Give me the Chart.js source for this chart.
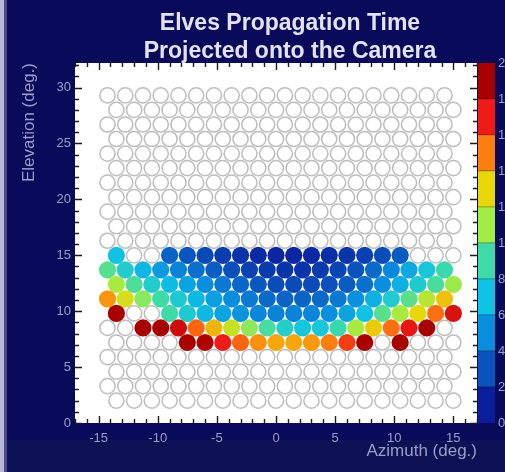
<!DOCTYPE html>
<html><head><meta charset="utf-8">
<script src="https://cdn.jsdelivr.net/npm/chart.js@4.4.1/dist/chart.umd.min.js"></script>
<style>html,body{margin:0;padding:0;background:#0a0a5a;overflow:hidden}</style>
</head><body>
<canvas id="c" width="505" height="472"></canvas>
<script>
// ---- text ----
const titleLines = ['Elves Propagation Time', 'Projected onto the Camera'];
const xAxisTitle = 'Azimuth (deg.)';
const yAxisTitle = 'Elevation (deg.)';

// ---- tick labels ----
const azimuthTicks = [-15, -10, -5, 0, 5, 10, 15];
const elevationTicks = [0, 5, 10, 15, 20, 25, 30];
const timeTicks = [0, 2, 4, 6, 8, 10, 12, 14, 16, 18, 20];

// ---- camera pixel layout (hexagonal grid, 22 rows x 20 columns) ----
const evenRowAzimuth = [-14.25, -12.75, -11.25, -9.75, -8.25, -6.75, -5.25, -3.75, -2.25, -0.75,
                        0.75, 2.25, 3.75, 5.25, 6.75, 8.25, 9.75, 11.25, 12.75, 14.25];
const oddRowAzimuth = [-13.5, -12, -10.5, -9, -7.5, -6, -4.5, -3, -1.5, 0,
                       1.5, 3, 4.5, 6, 7.5, 9, 10.5, 12, 13.5, 15];
const rowElevation = [29.3, 28.0, 26.7, 25.4, 24.1, 22.8, 21.5, 20.2, 18.9, 17.6, 16.3,
                      15.0, 13.7, 12.4, 11.1, 9.8, 8.5, 7.2, 5.9, 4.6, 3.3, 2.0];

// ---- propagation time per triggered pixel (null = no signal) ----
const timeRow11 = [7.0, null, null, 3.6, 3.1, 2.7, 2.2, 1.8, 1.5, 1.3, 1.3, 1.4, 1.6, 1.9, 2.3, 2.8, 3.3, null, null, null];
const timeRow12 = [9.5, 7.8, 6.5, 5.5, 4.6, 4.0, 3.4, 2.9, 2.4, 2.1, 1.9, 1.9, 2.1, 2.5, 3.0, 3.8, 4.8, 6.0, 7.3, 8.8];
const timeRow13 = [11.2, 9.3, 7.8, 6.8, 5.8, 5.0, 4.3, 3.7, 3.2, 2.8, 2.7, 2.7, 2.9, 3.3, 4.0, 5.0, 6.3, 7.7, 9.2, 10.9];
const timeRow14 = [14.5, 12.5, 10.5, 9.0, 7.6, 6.6, 5.7, 4.9, 4.3, 3.8, 3.6, 3.6, 3.8, 4.3, 5.1, 6.3, 7.7, 9.6, 11.6, 13.5];
const timeRow15 = [19.0, null, null, 9.0, 7.6, 6.6, 5.8, 5.2, 4.8, 4.6, 4.6, 4.7, 5.0, 5.8, 7.0, 9.5, 11.2, 13.0, 15.3, 17.6];
const timeRow16 = [null, null, 19.0, 19.0, 18.0, 15.5, 13.8, 12.0, 10.6, 9.2, 7.9, 7.3, 7.4, 8.8, 11.2, 13.3, 15.3, 17.3, 19.2, null];
const timeRow17 = [null, null, null, null, 19.2, 18.8, 17.0, 15.5, 14.6, 14.1, 14.1, 14.4, 15.0, 16.3, 19.0, null, 19.3, null, null, null];
const signalRowIndex = [11, 12, 13, 14, 15, 16, 17];
const signalRowTimes = [timeRow11, timeRow12, timeRow13, timeRow14, timeRow15, timeRow16, timeRow17];

// ---- colour scale (one colour per 2-unit band, 0 -> 20) ----
const bandColors = ['#0a1e9c', '#0a52bc', '#0a8ede', '#10c2e4', '#3edaa8',
                    '#a2ec46', '#e8d808', '#ff7e10', '#f01a16', '#a80000'];

function hexRgb(h) { return [1, 3, 5].map(i => parseInt(h.substr(i, 2), 16)); }
function timeColor(t) {
  const p = Math.max(0, Math.min(bandColors.length - 1, t / 2 - 0.5));
  const i = Math.min(bandColors.length - 2, Math.floor(p));
  const f = p - i;
  const a = hexRgb(bandColors[i]), b = hexRgb(bandColors[i + 1]);
  const c = a.map((v, j) => Math.round(v + (b[j] - v) * f));
  return `rgb(${c[0]},${c[1]},${c[2]})`;
}

// ---- build point lists from the camera layout and the time rows ----
const emptyPixels = [], hitPixels = [];
rowElevation.forEach((el, r) => {
  const az = r % 2 === 0 ? evenRowAzimuth : oddRowAzimuth;
  const si = signalRowIndex.indexOf(r);
  az.forEach((a, k) => {
    const t = si >= 0 ? signalRowTimes[si][k] : null;
    if (t === null) emptyPixels.push({ x: a, y: el });
    else hitPixels.push({ x: a, y: el, t: t });
  });
});

const FONT = '"Liberation Sans", Arial, Helvetica, sans-serif';
const NAVY = '#0a0a5a';
const LABEL = '#9c9ccc';

const backdrop = {
  id: 'backdrop',
  beforeDraw(chart) {
    const { ctx, width, height, chartArea: a } = chart;
    ctx.save();
    ctx.fillStyle = NAVY; ctx.fillRect(0, 0, width, height);
    ctx.fillStyle = '#0d1254'; ctx.fillRect(0, 440, width, height - 440);
    ctx.fillStyle = '#b8b8d4'; ctx.fillRect(0, 0, 4, height);
    ctx.fillStyle = '#4a4a8c'; ctx.fillRect(4, 0, 3, height);
    ctx.fillStyle = '#ffffff'; ctx.fillRect(a.left, a.top, a.right - a.left, a.bottom - a.top);
    ctx.restore();
  },
  afterDraw(chart) {
    const { ctx } = chart;
    ctx.save();
    ctx.font = 'bold 23px ' + FONT;
    ctx.fillStyle = '#e2e2f2';
    ctx.textAlign = 'center';
    ctx.textBaseline = 'middle';
    ctx.fillText(titleLines[0], 290, 24);
    ctx.fillText(titleLines[1], 290, 52);
    ctx.restore();
  }
};

const frameTicks = {
  id: 'frameTicks',
  afterDatasetsDraw(chart) {
    const { ctx, chartArea: a, scales: { x, y } } = chart;
    ctx.save();
    ctx.strokeStyle = '#1c1c1c';
    ctx.lineWidth = 1.4;
    ctx.beginPath();
    for (let v = Math.ceil(x.min); v <= x.max; v++) {
      const p = Math.round(x.getPixelForValue(v)) + 0.5;
      const L = v % 5 === 0 ? 7 : 4;
      ctx.moveTo(p, a.top); ctx.lineTo(p, a.top + L);
      ctx.moveTo(p, a.bottom); ctx.lineTo(p, a.bottom - L);
    }
    for (let v = Math.ceil(y.min); v <= y.max; v++) {
      const p = Math.round(y.getPixelForValue(v)) + 0.5;
      const L = v % 5 === 0 ? 7 : 4;
      ctx.moveTo(a.left, p); ctx.lineTo(a.left + L, p);
      ctx.moveTo(a.right, p); ctx.lineTo(a.right - L, p);
    }
    ctx.stroke();
    ctx.restore();
  }
};

const colorBar = {
  id: 'colorBar',
  afterDraw(chart) {
    const { ctx, scales: { cb } } = chart;
    const x0 = cb.left + 1, w = 17;
    ctx.save();
    for (let i = 0; i < bandColors.length; i++) {
      const yTop = cb.getPixelForValue(timeTicks[i + 1]);
      const yBot = cb.getPixelForValue(timeTicks[i]);
      ctx.fillStyle = bandColors[i];
      ctx.fillRect(x0, yTop, w, yBot - yTop);
      if (i > 0) {
        ctx.fillStyle = 'rgba(0,0,0,0.22)';
        ctx.fillRect(x0, Math.round(yBot) - 1, w, 1.5);
      }
    }
    ctx.restore();
  }
};

new Chart(document.getElementById('c'), {
  type: 'scatter',
  data: {
    datasets: [
      {
        label: 'No signal',
        data: emptyPixels,
        pointRadius: 7.6,
        pointBackgroundColor: '#ffffff',
        pointBorderColor: '#bdbdbd',
        pointBorderWidth: 1.5
      },
      {
        label: 'Propagation time',
        data: hitPixels,
        pointRadius: 8.6,
        pointBorderWidth: 0,
        pointBackgroundColor: c => timeColor(c.raw.t)
      }
    ]
  },
  options: {
    responsive: false,
    animation: false,
    events: [],
    layout: { padding: { top: 63, left: 0, right: 0, bottom: 0 } },
    plugins: { legend: { display: false }, tooltip: { enabled: false }, title: { display: false } },
    scales: {
      x: {
        type: 'linear', min: -17, max: 17,
        afterBuildTicks: s => { s.ticks = azimuthTicks.map(v => ({ value: v })); },
        afterFit: s => { s.height = 49; },
        grid: { display: false, drawTicks: false },
        border: { display: false },
        ticks: { color: LABEL, font: { family: FONT, size: 13 }, padding: 8, maxRotation: 0 },
        title: { display: true, text: xAxisTitle, align: 'end', color: LABEL,
                 font: { family: FONT, size: 17 }, padding: { top: 0, bottom: 10 } }
      },
      y: {
        type: 'linear', position: 'left', min: 0, max: 32.2,
        afterBuildTicks: s => { s.ticks = elevationTicks.map(v => ({ value: v })); },
        afterFit: s => { s.width = 75; },
        grid: { display: false, drawTicks: false },
        border: { display: false },
        ticks: { color: LABEL, font: { family: FONT, size: 13 }, padding: 4 },
        title: { display: true, text: yAxisTitle, align: 'end', color: LABEL,
                 font: { family: FONT, size: 17 }, padding: { top: 19, bottom: 0 } }
      },
      cb: {
        type: 'linear', position: 'right', min: 0, max: 20,
        afterBuildTicks: s => { s.ticks = timeTicks.map(v => ({ value: v })); },
        afterFit: s => { s.width = 28; },
        grid: { display: false, drawTicks: false },
        border: { display: false },
        ticks: { color: LABEL, font: { family: FONT, size: 13 }, padding: 21, crossAlign: 'near' }
      }
    }
  },
  plugins: [backdrop, frameTicks, colorBar]
});
</script>
</body></html>
